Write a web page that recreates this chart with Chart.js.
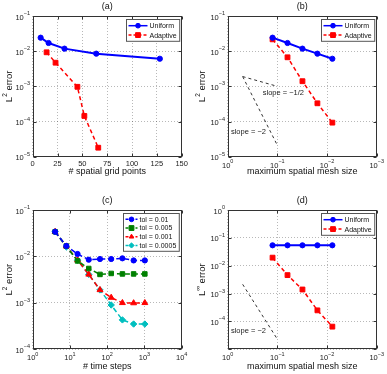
<!DOCTYPE html>
<html>
<head>
<meta charset="utf-8">
<script src="https://cdn.jsdelivr.net/npm/chart.js@4.4.1/dist/chart.umd.min.js"></script>
<style>
  html, body { margin: 0; padding: 0; background: #fff; }
  #fig { position: relative; width: 387px; height: 374px; }
  .cell { position: absolute; }
  canvas { display: block; }
</style>
</head>
<body>
<div id="fig">
  <div class="cell" style="left:0;top:0"><canvas id="chartA" width="193" height="187"></canvas></div>
  <div class="cell" style="left:193px;top:0"><canvas id="chartB" width="194" height="187"></canvas></div>
  <div class="cell" style="left:0;top:187px"><canvas id="chartC" width="193" height="187"></canvas></div>
  <div class="cell" style="left:193px;top:187px"><canvas id="chartD" width="194" height="187"></canvas></div>
</div>
<script>
const FONT = '"Liberation Sans", Arial, Helvetica, sans-serif';
Chart.defaults.font.family = FONT;
Chart.defaults.color = '#222';

// (a) L2 error against number of grid points
const gridPoints = [8, 16, 32, 64, 128];
const uniformL2 = [0.0242, 0.0171, 0.0118, 0.0085, 0.0061];
const adaptivePoints = [14, 23, 45, 52, 66];
const adaptiveL2 = [0.0093, 0.0047, 0.00097, 0.000144, 0.000018];
const xTicksA = [0, 25, 50, 75, 100, 125, 150];

// (b) L2 error against max mesh size
const meshSize = [0.125, 0.0625, 0.03125, 0.015625, 0.0078125];
const adaptiveL2Mesh = [0.0217, 0.0067, 0.0014, 0.00033, 0.000093];
const slopeX = [0.5, 0.1];
const slopeHalfY = [0.0019, 0.001];
const slopeTwoY = [0.0019, 0.000021];

// (c) L2 error against time steps for each tolerance
const timeSteps = [4, 8, 16, 32, 64, 128, 256, 512, 1024];
const tolNames = ['tol = 0.01', 'tol = 0.005', 'tol = 0.001', 'tol = 0.0005'];
const errTol1 = [0.034, 0.0168, 0.0113, 0.0085, 0.0088, 0.0088, 0.0091, 0.0082, 0.0082];
const errTol2 = [0.034, 0.0168, 0.008, 0.0055, 0.0041, 0.0043, 0.0042, 0.0042, 0.0042];
const errTol3 = [0.034, 0.0165, 0.0083, 0.0041, 0.0019, 0.0013, 0.001, 0.00099, 0.001];
const errTol4 = [0.034, 0.016, 0.0083, 0.0041, 0.0019, 0.0009, 0.00043, 0.00035, 0.00035];

// (d) Linf error against max mesh size
const uniformLinf = [0.054, 0.054, 0.054, 0.054, 0.054];
const adaptiveLinf = [0.0195, 0.0046, 0.0014, 0.00025, 0.000065];
const slopeTwoLinf = [0.00215, 0.000023];

// decade exponents for the log axes
const expsErrAB = [-5, -4, -3, -2, -1];
const expsMesh = [0, -1, -2, -3];
const expsSteps = [0, 1, 2, 3, 4];
const expsErrC = [-4, -3, -2, -1];
const expsErrD = [-5, -4, -3, -2, -1, 0];
const labelExpsD = [-4, -3, -2, -1, 0];

const BLUE = '#0000ff', RED = '#ff0000', GREEN = '#008000', CYAN = '#00bfbf';
const gridColor = 'rgba(0,0,0,0.28)';

const pts = (xs, ys) => xs.map((x, i) => ({ x: x, y: ys[i] }));

function series(label, xs, ys, color, extra) {
  return Object.assign({
    label: label, data: pts(xs, ys),
    borderColor: color, backgroundColor: color,
    pointBackgroundColor: color, pointBorderColor: color,
    borderWidth: 1.5, pointRadius: 2.6, pointBorderWidth: 1,
    pointStyle: 'circle', tension: 0, fill: false
  }, extra || {});
}

function guide(xs, ys) {
  return {
    data: pts(xs, ys), borderColor: '#333', borderWidth: 1, borderDash: [3, 3],
    pointRadius: 0, tension: 0, fill: false
  };
}

function drawMarker(ctx, style, x, y, r) {
  ctx.beginPath();
  if (style === 'rect') {
    ctx.rect(x - r * 0.71, y - r * 0.71, r * 1.42, r * 1.42);
  } else if (style === 'triangle') {
    ctx.moveTo(x, y - r);
    ctx.lineTo(x + r * 0.87, y + r * 0.5);
    ctx.lineTo(x - r * 0.87, y + r * 0.5);
    ctx.closePath();
  } else if (style === 'rectRot') {
    ctx.moveTo(x, y - r); ctx.lineTo(x + r, y); ctx.lineTo(x, y + r); ctx.lineTo(x - r, y);
    ctx.closePath();
  } else {
    ctx.arc(x, y, r * 0.9, 0, Math.PI * 2);
  }
  ctx.fill();
  ctx.stroke();
}

// 10 with a small raised exponent, like the matlab tick labels
function drawPower(ctx, e, x, y, align) {
  const base = '10';
  const sup = e < 0 ? '\u2212' + Math.abs(e) : String(e);
  ctx.font = '7.5px ' + FONT;
  const bw = ctx.measureText(base).width;
  ctx.font = '5.5px ' + FONT;
  const sw = ctx.measureText(sup).width;
  const left = align === 'right' ? x - bw - sw : x - (bw + sw) / 2;
  ctx.textAlign = 'left';
  ctx.textBaseline = 'middle';
  ctx.font = '7.5px ' + FONT;
  ctx.fillText(base, left, y);
  ctx.font = '5.5px ' + FONT;
  ctx.fillText(sup, left + bw, y - 4);
}

const matlabLook = {
  id: 'matlabLook',
  afterDraw(chart, args, opts) {
    const { ctx, chartArea: a, scales } = chart;
    const sx = scales.x, sy = scales.y;
    const L = Math.round(a.left) + 0.5, R = Math.round(a.right) - 0.5;
    const T = Math.round(a.top) + 0.5, B = Math.round(a.bottom) - 0.5;
    ctx.save();

    // inward ticks + frame
    ctx.strokeStyle = '#333';
    ctx.lineWidth = 1;
    ctx.setLineDash([]);
    ctx.beginPath();
    sx.ticks.forEach(t => {
      const px = Math.round(sx.getPixelForValue(t.value)) + 0.5;
      ctx.moveTo(px, B); ctx.lineTo(px, B - 3);
      ctx.moveTo(px, T); ctx.lineTo(px, T + 3);
    });
    sy.ticks.forEach(t => {
      const py = Math.round(sy.getPixelForValue(t.value)) + 0.5;
      ctx.moveTo(L, py); ctx.lineTo(L + 3, py);
      ctx.moveTo(R, py); ctx.lineTo(R - 3, py);
    });
    ctx.stroke();
    ctx.strokeRect(L, T, R - L, B - T);

    // log tick labels
    ctx.fillStyle = '#222';
    (opts.yExps || []).forEach(e => {
      const py = sy.getPixelForValue(Math.pow(10, e));
      drawPower(ctx, e, a.left - 2.7, py + 1.5, 'right');
    });
    (opts.xExps || []).forEach(e => {
      const px = sx.getPixelForValue(Math.pow(10, e));
      drawPower(ctx, e, px, a.bottom + 9, 'center');
    });

    // slope notes
    ctx.font = '7.5px ' + FONT;
    ctx.textAlign = 'left';
    ctx.textBaseline = 'middle';
    ctx.fillStyle = '#222';
    (opts.notes || []).forEach(n => {
      ctx.fillText(n.text, sx.getPixelForValue(n.x), sy.getPixelForValue(n.y));
    });

    // legend box
    const leg = opts.legend;
    if (leg) {
      ctx.font = '7px ' + FONT;
      const textW = Math.max(...leg.items.map(it => ctx.measureText(it.label).width));
      const w = 2 + leg.lineLen + 2 + textW + 3;
      const h = leg.items.length * leg.rowH + 3;
      const bx = Math.round(a.right - leg.inset - w) + 0.5;
      const by = Math.round(a.top + 3) + 0.5;
      ctx.fillStyle = '#fff';
      ctx.fillRect(bx, by, w, h);
      ctx.strokeStyle = '#555';
      ctx.lineWidth = 1;
      ctx.strokeRect(bx, by, w, h);
      leg.items.forEach((it, i) => {
        const cy = by + 1.5 + leg.rowH * (i + 0.5);
        const x0 = bx + 2, x1 = bx + 2 + leg.lineLen;
        ctx.strokeStyle = it.color;
        ctx.fillStyle = it.color;
        ctx.lineWidth = 1.5;
        ctx.setLineDash(it.dash ? [3, 2] : []);
        ctx.beginPath(); ctx.moveTo(x0, cy); ctx.lineTo(x1, cy); ctx.stroke();
        ctx.setLineDash([]);
        ctx.lineWidth = 1;
        drawMarker(ctx, it.style, (x0 + x1) / 2, cy, it.style === 'rect' ? 3.4 : 2.6);
        ctx.fillStyle = '#111';
        ctx.font = '7px ' + FONT;
        ctx.textAlign = 'left';
        ctx.textBaseline = 'middle';
        ctx.fillText(it.label, x1 + 2, cy + 0.5);
      });
    }

    // panel title
    ctx.fillStyle = '#111';
    ctx.font = '9px ' + FONT;
    ctx.textAlign = 'center';
    ctx.textBaseline = 'middle';
    ctx.fillText(opts.title, (a.left + a.right) / 2, a.top - 9.5);

    // y axis title with superscript
    ctx.translate(9.5, (a.top + a.bottom) / 2);
    ctx.rotate(-Math.PI / 2);
    ctx.font = '9.5px ' + FONT;
    const w1 = ctx.measureText('L').width, w3 = ctx.measureText(' error').width;
    ctx.font = '6.5px ' + FONT;
    const w2 = ctx.measureText(opts.ySup).width;
    let x = -(w1 + w2 + w3) / 2;
    ctx.textAlign = 'left';
    ctx.font = '9.5px ' + FONT;
    ctx.fillText('L', x, 0);
    ctx.font = '6.5px ' + FONT;
    ctx.fillText(opts.ySup, x + w1, -4.5);
    ctx.font = '9.5px ' + FONT;
    ctx.fillText(' error', x + w1 + w2, 0);
    ctx.restore();
  }
};

function logAxis(min, max, exps, size, reverse) {
  return {
    type: 'logarithmic', min: min, max: max, reverse: !!reverse,
    afterBuildTicks: s => { s.ticks = exps.map(e => ({ value: Math.pow(10, e) })); },
    ticks: { display: false },
    grid: { color: gridColor, drawTicks: false, lineWidth: 1 },
    border: { display: false, dash: [1, 2] },
    afterFit: s => { if (s.isHorizontal()) s.height = size; else s.width = size; }
  };
}

function xTitle(text, pad) {
  return { display: true, text: text, color: '#111', font: { size: 9 }, padding: { top: 0, bottom: pad } };
}

function makeChart(id, datasets, x, y, padding, look) {
  return new Chart(document.getElementById(id), {
    type: 'line',
    data: { datasets: datasets },
    options: {
      responsive: false, animation: false, events: [],
      layout: { padding: padding },
      plugins: { legend: { display: false }, tooltip: { enabled: false }, matlabLook: look },
      scales: { x: x, y: y }
    },
    plugins: [matlabLook]
  });
}

const legendUA = {
  lineLen: 19, rowH: 9.4, inset: 2.5,
  items: [
    { label: 'Uniform', color: BLUE, style: 'circle', dash: false },
    { label: 'Adaptive', color: RED, style: 'rect', dash: true }
  ]
};

// (a)
const xA = {
  type: 'linear', min: 0, max: 150,
  afterBuildTicks: s => { s.ticks = xTicksA.map(v => ({ value: v })); },
  ticks: { font: { size: 7.5 }, color: '#222', padding: 3, maxRotation: 0, autoSkip: false },
  grid: { color: gridColor, drawTicks: false },
  border: { display: false, dash: [1, 2] },
  title: xTitle('# spatial grid points', 9.9),
  afterFit: s => { s.height = 30.3; }
};
makeChart('chartA', [
  series('Uniform', gridPoints, uniformL2, BLUE, { borderWidth: 2 }),
  series('Adaptive', adaptivePoints, adaptiveL2, RED, { borderDash: [4, 3], pointStyle: 'rect', pointRadius: 3.4 })
], xA, logAxis(1e-5, 1e-1, expsErrAB, 32.7),
  { left: 0, right: 11.3, top: 16, bottom: 0 },
  { title: '(a)', ySup: '2', yExps: expsErrAB, legend: legendUA });

// (b)
const xB = logAxis(1e-3, 1, expsMesh, 30.3, true);
xB.title = xTitle('maximum spatial mesh size', 9.9);
makeChart('chartB', [
  series('Uniform', meshSize, uniformL2, BLUE, { borderWidth: 2 }),
  series('Adaptive', meshSize, adaptiveL2Mesh, RED, { borderDash: [4, 3], pointStyle: 'rect', pointRadius: 3.4 }),
  guide(slopeX, slopeHalfY),
  guide(slopeX, slopeTwoY)
], xB, logAxis(1e-5, 1e-1, expsErrAB, 34.7),
  { left: 0, right: 10.3, top: 16, bottom: 0 },
  { title: '(b)', ySup: '2', yExps: expsErrAB, xExps: expsMesh, legend: legendUA,
    notes: [{ text: 'slope = \u22121/2', x: 0.197, y: 0.00063 }, { text: 'slope = \u22122', x: 0.86, y: 0.00005 }] });

// (c)
const xC = logAxis(1, 1e4, expsSteps, 24.7);
xC.title = xTitle('# time steps', 1.9);
const dashC = { borderDash: [5, 3] };
makeChart('chartC', [
  series(tolNames[0], timeSteps, errTol1, BLUE, dashC),
  series(tolNames[1], timeSteps, errTol2, GREEN, Object.assign({ pointStyle: 'rect', pointRadius: 3.2 }, dashC)),
  series(tolNames[2], timeSteps, errTol3, RED, Object.assign({ pointStyle: 'triangle', pointRadius: 3.4 }, dashC)),
  series(tolNames[3], timeSteps, errTol4, CYAN, Object.assign({ pointStyle: 'rectRot', pointRadius: 3.2 }, dashC))
], xC, logAxis(1e-4, 1e-1, expsErrC, 32.7),
  { left: 0, right: 11.3, top: 23, bottom: 0 },
  { title: '(c)', ySup: '2', yExps: expsErrC, xExps: expsSteps,
    legend: { lineLen: 12, rowH: 8.7, inset: 3.3, items: [
      { label: tolNames[0], color: BLUE, style: 'circle', dash: true },
      { label: tolNames[1], color: GREEN, style: 'rect', dash: true },
      { label: tolNames[2], color: RED, style: 'triangle', dash: true },
      { label: tolNames[3], color: CYAN, style: 'rectRot', dash: true }
    ] } });

// (d)
const xD = logAxis(1e-3, 1, expsMesh, 24.7, true);
xD.title = xTitle('maximum spatial mesh size', 1.9);
makeChart('chartD', [
  series('Uniform', meshSize, uniformLinf, BLUE, { borderWidth: 2 }),
  series('Adaptive', meshSize, adaptiveLinf, RED, { borderDash: [4, 3], pointStyle: 'rect', pointRadius: 3.4 }),
  guide(slopeX, slopeTwoLinf)
], xD, logAxis(1e-5, 1, expsErrD, 34.7),
  { left: 0, right: 10.3, top: 23, bottom: 0 },
  { title: '(d)', ySup: '\u221e', yExps: labelExpsD, xExps: expsMesh, legend: legendUA,
    notes: [{ text: 'slope = \u22122', x: 0.86, y: 0.000047 }] });
</script>
</body>
</html>
